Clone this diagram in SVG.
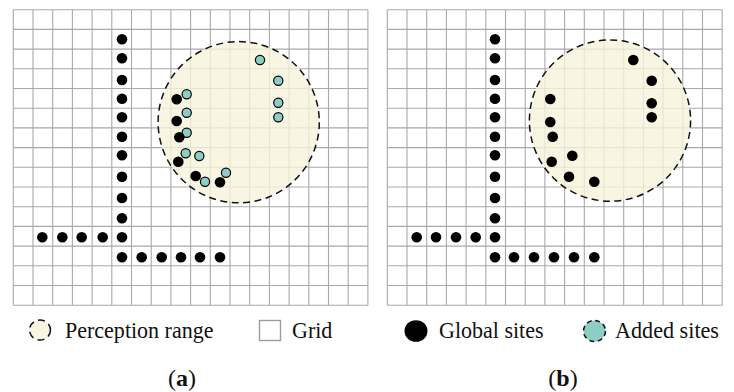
<svg xmlns="http://www.w3.org/2000/svg" width="734" height="392" viewBox="0 0 734 392">
  <defs>
    <style>
      .grid { fill: none; stroke: #a9a9a9; stroke-width: 1.1; }
      .range { fill: #f8f2dc; fill-opacity: 0.8; stroke: #111; stroke-width: 1.5; stroke-dasharray: 7 4.5; }
      .g { fill: #000; }
      .a { fill: #8ecdc5; stroke: #000; stroke-width: 1.2; }
      .lbl { font-family: 'Liberation Serif', 'DejaVu Serif', serif; font-size: 23.5px; fill: #111; }
    </style>
    <circle id="gs" r="5.3" class="g"/>
    <circle id="as" r="4.6" class="a"/>
  </defs>

  <rect width="734" height="392" fill="#fff"/>

  <!-- panel (a) -->
  <g id="panel-a">
    <path class="grid" d="M13.3 9.7V305.2M33 9.7V305.2M52.7 9.7V305.2M72.4 9.7V305.2M92.1 9.7V305.2M111.8 9.7V305.2M131.5 9.7V305.2M151.2 9.7V305.2M170.9 9.7V305.2M190.6 9.7V305.2M210.3 9.7V305.2M230 9.7V305.2M249.7 9.7V305.2M269.4 9.7V305.2M289.1 9.7V305.2M308.8 9.7V305.2M328.5 9.7V305.2M348.2 9.7V305.2M367.9 9.7V305.2
      M13.3 9.7H367.9M13.3 29.4H367.9M13.3 49.1H367.9M13.3 68.8H367.9M13.3 88.5H367.9M13.3 108.2H367.9M13.3 127.9H367.9M13.3 147.6H367.9M13.3 167.3H367.9M13.3 187H367.9M13.3 206.7H367.9M13.3 226.4H367.9M13.3 246.1H367.9M13.3 265.8H367.9M13.3 285.5H367.9M13.3 305.2H367.9"/>
    <circle id="range-a" class="range" cx="238.7" cy="122.2" r="80.6"/>
    <g id="global-a">
      <use href="#gs" x="122" y="39.3"/><use href="#gs" x="122" y="58.3"/><use href="#gs" x="122" y="80"/>
      <use href="#gs" x="122" y="98.7"/><use href="#gs" x="122" y="117.3"/><use href="#gs" x="122" y="136.7"/>
      <use href="#gs" x="122" y="155.3"/><use href="#gs" x="122" y="176.7"/><use href="#gs" x="122" y="198"/>
      <use href="#gs" x="122" y="218.3"/><use href="#gs" x="122" y="237.3"/><use href="#gs" x="122" y="257.3"/>
      <use href="#gs" x="42.3" y="237.3"/><use href="#gs" x="62.3" y="237.3"/><use href="#gs" x="81.7" y="237.3"/><use href="#gs" x="102.7" y="237.3"/>
      <use href="#gs" x="141.7" y="257.3"/><use href="#gs" x="161.7" y="257.3"/><use href="#gs" x="181" y="257.3"/><use href="#gs" x="200" y="257.3"/><use href="#gs" x="220" y="257.3"/>
      <use href="#gs" x="176.7" y="99.3"/><use href="#gs" x="176.7" y="121"/><use href="#gs" x="178.3" y="161.7"/>
      <use href="#gs" x="195.7" y="176"/><use href="#gs" x="220" y="182.3"/>
    </g>
    <g id="added-a">
      <use href="#as" x="260" y="60"/><use href="#as" x="278.3" y="80.7"/><use href="#as" x="278.3" y="102.7"/><use href="#as" x="278.3" y="117.3"/>
      <use href="#as" x="186.7" y="94.3"/><use href="#as" x="186.7" y="112.7"/><use href="#as" x="186.7" y="132.7"/>
      <use href="#as" x="185.7" y="153.3"/><use href="#as" x="199.3" y="156"/><use href="#as" x="205" y="181.7"/><use href="#as" x="226" y="172.7"/>
    </g>
    <use href="#gs" x="179.3" y="137.3"/>
  </g>

  <!-- panel (b) -->
  <g id="panel-b">
    <path class="grid" d="M387.3 9.7V305.2M407 9.7V305.2M426.7 9.7V305.2M446.4 9.7V305.2M466.1 9.7V305.2M485.8 9.7V305.2M505.5 9.7V305.2M525.2 9.7V305.2M544.9 9.7V305.2M564.6 9.7V305.2M584.3 9.7V305.2M604 9.7V305.2M623.7 9.7V305.2M643.4 9.7V305.2M663.1 9.7V305.2M682.8 9.7V305.2M702.5 9.7V305.2M722.2 9.7V305.2
      M387.3 9.7H722.2M387.3 29.4H722.2M387.3 49.1H722.2M387.3 68.8H722.2M387.3 88.5H722.2M387.3 108.2H722.2M387.3 127.9H722.2M387.3 147.6H722.2M387.3 167.3H722.2M387.3 187H722.2M387.3 206.7H722.2M387.3 226.4H722.2M387.3 246.1H722.2M387.3 265.8H722.2M387.3 285.5H722.2M387.3 305.2H722.2"/>
    <circle id="range-b" class="range" cx="610" cy="120.6" r="80.6"/>
    <g id="global-b">
      <use href="#gs" x="495" y="39.3"/><use href="#gs" x="495" y="58.3"/><use href="#gs" x="495" y="80"/>
      <use href="#gs" x="495" y="98.7"/><use href="#gs" x="495" y="117.3"/><use href="#gs" x="495" y="136.7"/>
      <use href="#gs" x="495" y="155.3"/><use href="#gs" x="495" y="176.7"/><use href="#gs" x="495" y="198"/>
      <use href="#gs" x="495" y="218.3"/><use href="#gs" x="495" y="237.3"/><use href="#gs" x="495" y="257.3"/>
      <use href="#gs" x="416.7" y="237.3"/><use href="#gs" x="436" y="237.3"/><use href="#gs" x="456" y="237.3"/><use href="#gs" x="475.7" y="237.3"/>
      <use href="#gs" x="514" y="257.3"/><use href="#gs" x="534" y="257.3"/><use href="#gs" x="554" y="257.3"/><use href="#gs" x="574" y="257.3"/><use href="#gs" x="594.3" y="257.3"/>
      <use href="#gs" x="633.3" y="60"/><use href="#gs" x="651.7" y="80.7"/><use href="#gs" x="651.7" y="103.3"/><use href="#gs" x="651.7" y="117.3"/>
      <use href="#gs" x="550.3" y="99"/><use href="#gs" x="550.3" y="122"/><use href="#gs" x="552.7" y="136.7"/>
      <use href="#gs" x="551.7" y="161.7"/><use href="#gs" x="572.3" y="155.7"/><use href="#gs" x="569" y="176.7"/><use href="#gs" x="594.3" y="181.7"/>
    </g>
  </g>

  <!-- legend -->
  <g id="legend-range">
    <ellipse class="range" cx="40" cy="330" rx="10.5" ry="10" stroke-dasharray="5 3.5"/>
    <text class="lbl" x="65" y="337.5" textLength="148.5" lengthAdjust="spacingAndGlyphs">Perception range</text>
  </g>
  <g id="legend-grid">
    <rect x="259.5" y="320.5" width="21" height="20" fill="#fff" stroke="#9c9c9c" stroke-width="1.4"/>
    <text class="lbl" x="292" y="337.5" textLength="40.3" lengthAdjust="spacingAndGlyphs">Grid</text>
  </g>
  <g id="legend-global">
    <ellipse cx="416" cy="331" rx="11.5" ry="10.8" fill="#000"/>
    <text class="lbl" x="439" y="337.5" textLength="104.5" lengthAdjust="spacingAndGlyphs">Global sites</text>
  </g>
  <g id="legend-added">
    <ellipse cx="594.5" cy="331" rx="11" ry="10.5" fill="#8ecdc5" stroke="#111" stroke-width="1.5" stroke-dasharray="5 3.5"/>
    <text class="lbl" x="615" y="337.5" textLength="104" lengthAdjust="spacingAndGlyphs">Added sites</text>
  </g>

  <!-- panel labels -->
  <text class="lbl" x="182" y="386" style="font-size:24px" text-anchor="middle">(<tspan font-weight="bold">a</tspan>)</text>
  <text class="lbl" x="563" y="386" style="font-size:24px" text-anchor="middle">(<tspan font-weight="bold">b</tspan>)</text>
</svg>
